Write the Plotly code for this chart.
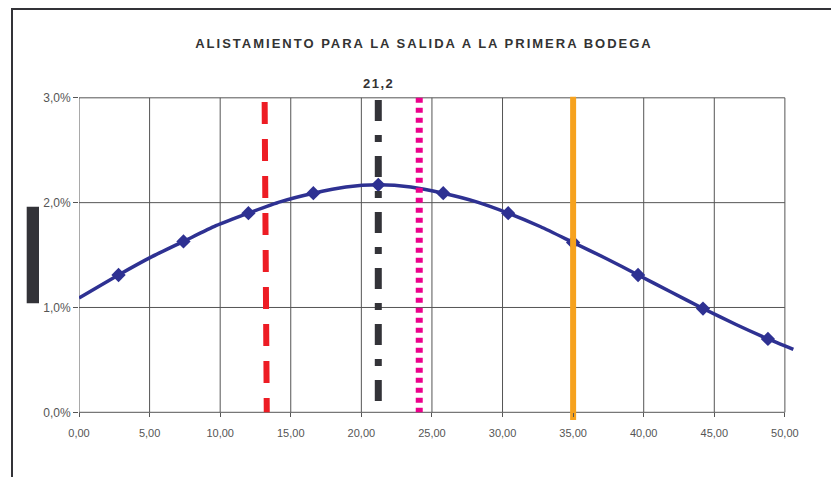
import plotly.graph_objects as go

# Distribution of the time to the first warehouse (percent per x unit)
curve_x = [0.0, 2.8, 5.1, 7.4, 9.7, 12.0, 14.3, 16.6, 18.9, 21.2, 23.5, 25.8,
           28.1, 30.4, 32.7, 35.0, 37.3, 39.6, 41.9, 44.2, 46.5, 48.8, 50.6]
curve_pct = [1.09, 1.31, 1.48, 1.63, 1.78, 1.90, 2.01, 2.09, 2.15, 2.17, 2.15, 2.09,
             2.01, 1.90, 1.77, 1.62, 1.47, 1.31, 1.15, 0.99, 0.84, 0.70, 0.60]

marker_x = [2.8, 7.4, 12.0, 16.6, 21.2, 25.8, 30.4, 35.0, 39.6, 44.2, 48.8]
marker_pct = [1.31, 1.63, 1.90, 2.09, 2.17, 2.09, 1.90, 1.62, 1.31, 0.99, 0.70]

# Reference lines
mean_value = 21.2
red_x = [13.15, 13.3]
red_pct = [2.96, 0.0]
mean_pct = [2.98, 0.0]
pink_x = 24.1
pink_pct = [3.0, 0.0]
orange_x = 35.0
orange_pct = [3.01, -0.073]

x_ticks = [0, 5, 10, 15, 20, 25, 30, 35, 40, 45, 50]
y_ticks_pct = [0, 1, 2, 3]

title_text = "ALISTAMIENTO PARA LA SALIDA A LA PRIMERA BODEGA"

# ---- layout geometry (pixels) ----
W, H = 831, 477
ML, MR, MT, MB = 79, 32, 93, 54
PW, PH = W - ML - MR, H - MT - MB


def px_x(p):
    return (p - ML) / PW


def px_y(p):
    return (H - MB - p) / PH


def frac(v):
    return [a / 100.0 for a in v]


AXIS_COL = "#555555"
DARK = "#333338"
BLUE = "#2e3192"

fig = go.Figure()

fig.add_trace(go.Scatter(
    x=curve_x, y=frac(curve_pct), mode="lines",
    line=dict(color=BLUE, width=3.5, shape="spline", smoothing=0.6),
    hoverinfo="skip"))
fig.add_trace(go.Scatter(
    x=marker_x, y=frac(marker_pct), mode="markers",
    marker=dict(symbol="diamond", size=11, color=BLUE)))

fig.add_trace(go.Scatter(
    x=red_x, y=frac(red_pct), mode="lines",
    line=dict(color="#ed1c24", width=6, dash="22px,15px")))
fig.add_trace(go.Scatter(
    x=[mean_value, mean_value], y=frac(mean_pct), mode="lines",
    line=dict(color=DARK, width=7, dash="21px,14px,7px,14px")))
fig.add_trace(go.Scatter(
    x=[pink_x, pink_x], y=frac(pink_pct), mode="lines",
    line=dict(color="#ec008c", width=7, dash="5px,5px")))
fig.add_trace(go.Scatter(
    x=[orange_x, orange_x], y=frac(orange_pct), mode="lines",
    line=dict(color="#f6a21e", width=6)))

shapes = []
# horizontal grid lines (the 0% one is the category axis line)
for yv in y_ticks_pct:
    shapes.append(dict(type="line", xref="x", yref="y", x0=x_ticks[0], x1=x_ticks[-1],
                       y0=yv / 100, y1=yv / 100, line=dict(color=AXIS_COL, width=1),
                       layer="below"))
# vertical grid lines (the 0 one is the value axis line)
for xv in x_ticks:
    shapes.append(dict(type="line", xref="x", yref="y", x0=xv, x1=xv,
                       y0=0, y1=y_ticks_pct[-1] / 100, line=dict(color=AXIS_COL, width=1),
                       layer="below"))
# chart frame
shapes.append(dict(type="line", xref="paper", yref="paper", x0=px_x(12), x1=px_x(12),
                   y0=px_y(9), y1=px_y(490), line=dict(color=DARK, width=2)))
shapes.append(dict(type="line", xref="paper", yref="paper", x0=px_x(11), x1=px_x(850),
                   y0=px_y(9), y1=px_y(9), line=dict(color=DARK, width=2)))
# value axis title block
shapes.append(dict(type="rect", xref="paper", yref="paper", x0=px_x(26.7), x1=px_x(39),
                   y0=px_y(303.3), y1=px_y(206.7), line=dict(width=0), fillcolor=DARK))

zero_pos = px_y(412.3)

fig.update_layout(
    width=W, height=H,
    margin=dict(l=ML, r=MR, t=MT, b=MB, pad=0),
    paper_bgcolor="white", plot_bgcolor="white",
    showlegend=False,
    separators=", ",
    font=dict(family="Liberation Sans, Arial, sans-serif", color="#555555"),
    title=dict(text=title_text, xref="container", yref="container",
               x=424 / W, y=1 - 43 / H, xanchor="center", yanchor="middle",
               font=dict(size=13, color="#333333", weight="bold")),
    xaxis=dict(range=[0, 51], showgrid=False, zeroline=False, showline=False,
               tickvals=x_ticks, tickformat=".2f", ticks="outside", ticklen=4,
               tickcolor=AXIS_COL, tickfont=dict(size=11, color="#555555"),
               ticklabelstandoff=6, anchor="free", position=zero_pos),
    yaxis=dict(range=[-0.00102, 0.03046], showgrid=False, zeroline=False, showline=False,
               tickvals=[v / 100 for v in y_ticks_pct], tickformat=".1%",
               ticks="outside", ticklen=5, tickcolor=AXIS_COL,
               tickfont=dict(size=12, color="#555555")),
    shapes=shapes,
    annotations=[dict(text=f"{mean_value:.1f}".replace(".", ","), x=mean_value, xref="x",
                      y=px_y(83), yref="paper", showarrow=False, yanchor="middle",
                      font=dict(size=13, color="#333333", weight="bold"))],
)

post = """
var gd = document.getElementById('{plot_id}');
function spacing(){
  gd.querySelectorAll('.gtitle').forEach(function(e){ e.style.letterSpacing = '2px'; });
  gd.querySelectorAll('.annotation-text').forEach(function(e){ e.style.letterSpacing = '1.5px'; });
}
spacing();
gd.on('plotly_afterplot', spacing);
"""

fig.write_html("out.html", post_script=post)
